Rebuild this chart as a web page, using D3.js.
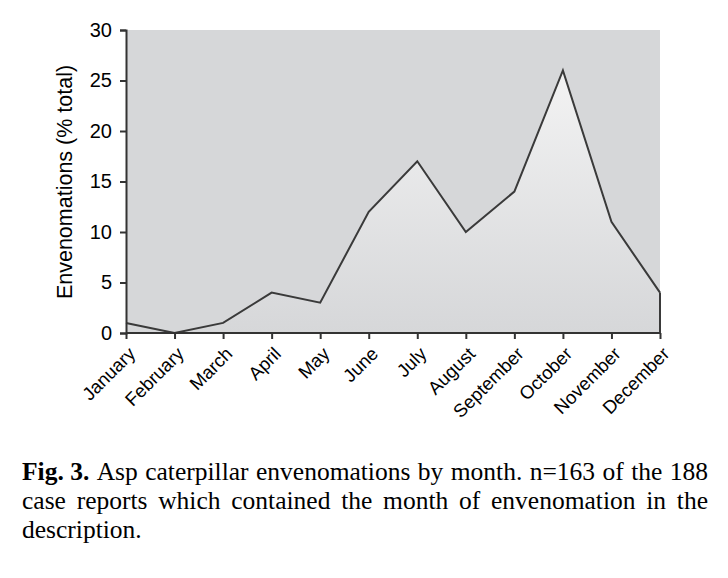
<!DOCTYPE html>
<html>
<head>
<meta charset="utf-8">
<script src="https://cdnjs.cloudflare.com/ajax/libs/d3/7.8.5/d3.min.js"></script>
<style>
  html, body { margin: 0; padding: 0; background: #fff; }
  svg { display: block; }
</style>
</head>
<body>
<svg id="chart" width="728" height="578"></svg>
<script>
const months = ["January","February","March","April","May","June","July","August","September","October","November","December"];
const values = [1, 0, 1, 4, 3, 12, 17, 10, 14, 26, 11, 4];
const yTicks = [0, 5, 10, 15, 20, 25, 30];
const yTitle = "Envenomations (% total)";
const captionBold = "Fig. 3.";
const captionLines = [
  "Asp caterpillar envenomations by month. n=163 of the 188",
  "case reports which contained the month of envenomation in the",
  "description."
];

(function () {
const svg = d3.select("#chart");
const pL = 126, pR = 660, pT = 30, pB = 333;

const x = d3.scalePoint().domain(months).range([pL, pR]);
const y = d3.scaleLinear().domain([0, 30]).range([pB, pT]);

const defs = svg.append("defs");
const grad = defs.append("linearGradient")
  .attr("id", "areaGrad").attr("gradientUnits", "userSpaceOnUse")
  .attr("x1", 0).attr("y1", pT).attr("x2", 0).attr("y2", pB);
grad.append("stop").attr("offset", "0%").attr("stop-color", "#f7f7f7");
grad.append("stop").attr("offset", "100%").attr("stop-color", "#d6d7d9");

svg.append("rect")
  .attr("x", pL).attr("y", pT)
  .attr("width", pR - pL).attr("height", pB - pT)
  .attr("fill", "#d6d7d9");

const data = months.map((m, i) => ({ m, v: values[i] }));

const area = d3.area().x(d => x(d.m)).y0(y(0)).y1(d => y(d.v));
svg.append("path").datum(data)
  .attr("d", area)
  .attr("fill", "url(#areaGrad)");

const line = d3.line().x(d => x(d.m)).y(d => y(d.v));
svg.append("path").datum(data)
  .attr("d", line)
  .attr("fill", "none").attr("stroke", "#3a3a3a").attr("stroke-width", 2)
  .attr("stroke-linejoin", "miter");

const last = data[data.length - 1];
svg.append("line")
  .attr("x1", x(last.m)).attr("x2", x(last.m))
  .attr("y1", y(last.v)).attr("y2", y(0))
  .attr("stroke", "#3a3a3a").attr("stroke-width", 2);

const yAxis = svg.append("g")
  .attr("transform", `translate(${pL},0)`)
  .call(d3.axisLeft(y).tickValues(yTicks).tickSize(6).tickPadding(8).tickFormat(d3.format("d")));
yAxis.select(".domain").attr("stroke", "#333").attr("stroke-width", 2);
yAxis.selectAll(".tick line").attr("stroke", "#333").attr("stroke-width", 2);
yAxis.selectAll(".tick text")
  .attr("font-family", "Liberation Sans, Arial, sans-serif")
  .attr("font-size", 20).attr("fill", "#000");

const xAxis = svg.append("g")
  .attr("transform", `translate(0,${pB})`)
  .call(d3.axisBottom(x).tickSize(6).tickPadding(4));
xAxis.select(".domain").attr("stroke", "#333").attr("stroke-width", 2).attr("d", `M${pL},0H${pR}`);
xAxis.selectAll(".tick line").attr("stroke", "#333").attr("stroke-width", 2);
xAxis.selectAll(".tick text")
  .attr("font-family", "Liberation Sans, Arial, sans-serif")
  .attr("font-size", 18.5).attr("fill", "#000")
  .attr("text-anchor", "end")
  .attr("dy", null)
  .attr("y", 0)
  .attr("transform", "translate(10,22) rotate(-45)");

svg.append("text")
  .attr("transform", `translate(72,182) rotate(-90)`)
  .attr("text-anchor", "middle")
  .attr("font-family", "Liberation Sans, Arial, sans-serif")
  .attr("font-size", 21.5).attr("fill", "#000")
  .text(yTitle);

const capX = 22, capRight = 708, baselines = [480, 509, 538];
const capG = svg.append("g")
  .attr("font-family", "Liberation Serif, Times New Roman, serif")
  .attr("font-size", 25.5).attr("fill", "#000");

function measure(str, bold) {
  const t = capG.append("text").attr("font-weight", bold ? "bold" : "normal").text(str);
  const w = t.node().getComputedTextLength();
  t.remove();
  return w;
}
const spaceW = measure("a a") - measure("aa");

captionLines.forEach((ln, li) => {
  const words = [];
  if (li === 0) words.push({ t: captionBold, b: true });
  ln.split(" ").forEach(w => words.push({ t: w, b: false }));
  words.forEach(w => w.w = measure(w.t, w.b));
  const total = d3.sum(words, w => w.w);
  const gaps = words.length - 1;
  const justify = li < captionLines.length - 1;
  const gap = justify ? (capRight - capX - total) / gaps : spaceW;
  let cx = capX;
  words.forEach(w => {
    capG.append("text")
      .attr("x", cx).attr("y", baselines[li])
      .attr("font-weight", w.b ? "bold" : "normal")
      .text(w.t);
    cx += w.w + gap;
  });
});
})();
</script>
</body>
</html>
